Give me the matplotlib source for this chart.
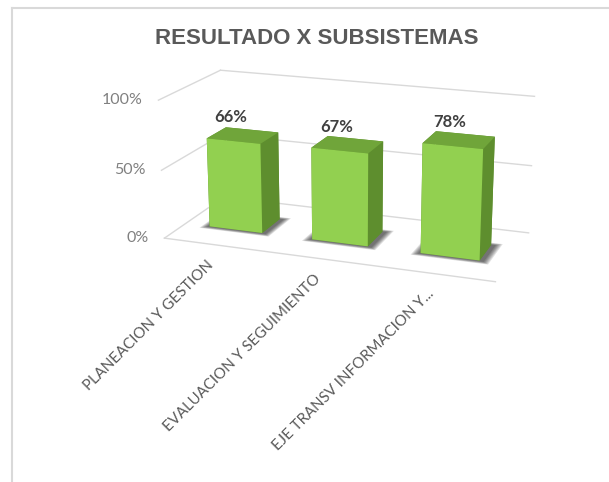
import matplotlib
matplotlib.use("Agg")
import matplotlib.pyplot as plt
import numpy as np
from mpl_toolkits.mplot3d import proj3d
from mpl_toolkits.mplot3d.art3d import Poly3DCollection

categories = ["PLANEACION Y GESTION", "EVALUACION Y SEGUIMIENTO", "EJE TRANSV INFORMACION Y..."]
values = [0.66, 0.67, 0.78]
tick_vals = [0.0, 0.5, 1.0]
tick_labels = ["0%", "50%", "100%"]
title = "RESULTADO X SUBSISTEMAS"

FRONT = "#92D050"
TOP = "#70A53A"
SIDE = "#5E8E2E"
GRID = "#D9D9D9"

fig = plt.figure(figsize=(6.09, 4.82), dpi=100)
fig.patch.set_facecolor("white")
fig.add_artist(plt.Line2D([11.5/609, 11.5/609], [0, 1 - 7.5/482], transform=fig.transFigure, color="#D9D9D9", lw=1.5))
fig.add_artist(plt.Line2D([11.5/609, 1], [1 - 7.5/482, 1 - 7.5/482], transform=fig.transFigure, color="#D9D9D9", lw=1.5))

fig.text(317/609, 1 - 38/482, title, ha="center", va="center", fontsize=16, fontweight="bold",
         color="#595959", family="Liberation Sans")

ax = fig.add_axes([0.06, 0.138, 1.0, 1.0], projection="3d")
ax.computed_zorder = False
ax.set_proj_type("persp", focal_length=0.5)
ax.view_init(elev=17, azim=-70)
n = len(categories)
depth = 1.3
ax.set_xlim(0, n)
ax.set_ylim(0, depth)
ax.set_zlim(0, 1)
ax.set_box_aspect((n * 1.05, depth, 1.32), zoom=0.8)
ax.set_axis_off()

for t in tick_vals:
    ax.plot([0, n], [depth, depth], [t, t], color=GRID, lw=1.0, zorder=0)
    ax.plot([0, 0], [0, depth], [t, t], color=GRID, lw=1.0, zorder=0)
ax.plot([0, n], [0, 0], [0, 0], color=GRID, lw=1.0, zorder=0)

bw = 0.52
bd = 0.42
xs = np.arange(n) + (1 - bw) / 2
ys = np.full(n, (depth - bd) / 2)
zs = np.zeros(n)

# soft shadows on the floor
for k in range(6):
    e = 0.01 * (k + 1)
    polys = []
    for i in range(n):
        x0, x1 = xs[i] - e - 0.01, xs[i] + bw + e + 0.03
        y0, y1 = ys[i] - e - 0.01, ys[i] + bd + e
        polys.append([(x0, y0, 0), (x1, y0, 0), (x1, y1, 0), (x0, y1, 0)])
    ax.add_collection3d(Poly3DCollection(polys, facecolor=(0, 0, 0, 0.12), edgecolor="none", zorder=1))

face_colors = []
for _ in range(n):
    face_colors += [SIDE, TOP, FRONT, SIDE, SIDE, SIDE]
bars = ax.bar3d(xs, ys, zs, bw, bd, values, color=face_colors, shade=False, edgecolor="none")
bars.set_zorder(2)

fig.canvas.draw()
M = ax.get_proj()


def p2(x, y, z):
    a, b, _ = proj3d.proj_transform(x, y, z, M)
    return a, b


for i, v in enumerate(values):
    ax.annotate(f"{round(v*100):d}%", xy=p2(xs[i] + bw / 2, ys[i], v), xycoords="data",
                xytext=(-2, 17), textcoords="offset points", ha="center", va="center",
                fontsize=12, fontweight="bold", color="#404040", family="Lato", zorder=5)
    ax.annotate(categories[i], xy=p2(i + 0.5, 0, 0), xycoords="data",
                xytext=(-3, -13), textcoords="offset points", ha="right", va="center",
                rotation=45, rotation_mode="anchor", fontsize=10.8, color="#595959",
                family="Lato", zorder=5)

for t, lab in zip(tick_vals, tick_labels):
    ax.annotate(lab, xy=p2(0, 0, t), xycoords="data", xytext=(-11.5, 0), textcoords="offset points",
                ha="right", va="center", fontsize=11.5, color="#808080", family="Lato", zorder=5)

fig.savefig("out.png", dpi=100)
